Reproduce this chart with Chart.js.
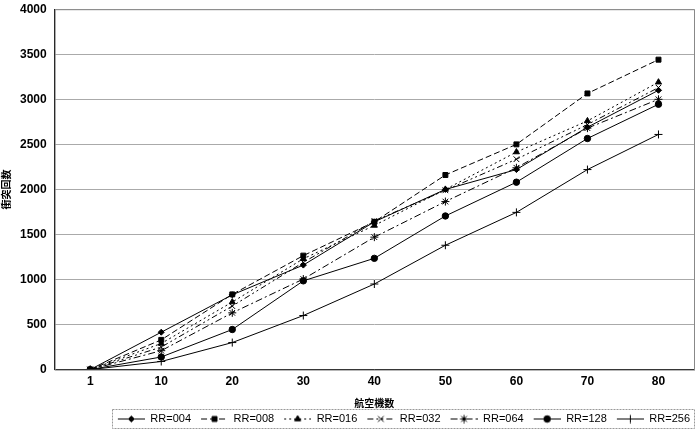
<!DOCTYPE html>
<html>
<head>
<meta charset="utf-8">
<script src="https://cdn.jsdelivr.net/npm/chart.js@4"></script>
<style>
  html,body{margin:0;padding:0;background:#fff;}
  #wrap{width:700px;height:434px;}
</style>
</head>
<body>
<div id="wrap"><canvas id="c" width="700" height="434"></canvas></div>
<script>
// 航空機数 (x) と衝突回数 (y)
const labels=["1","10","20","30","40","50","60","70","80"];
const yTicks=[0,500,1000,1500,2000,2500,3000,3500,4000];
const rr004=[0,415,830,1160,1640,2000,2220,2690,3100];
const rr008=[0,330,835,1265,1640,2160,2500,3065,3440];
const rr016=[0,290,750,1230,1600,2000,2415,2760,3190];
const rr032=[0,250,705,1190,1650,1990,2335,2720,3130];
const rr064=[0,210,630,1005,1470,1865,2240,2680,3000];
const rr128=[0,140,445,985,1235,1705,2080,2565,2945];
const rr256=[0,90,300,600,950,1380,1745,2220,2610];

// 凡例用: 線+マーカーの小さな画像 (左側は余白)
const LW=33, GAP=6;
function legendImg(dash,style,r){
  const cv=document.createElement("canvas");
  cv.width=LW; cv.height=10;
  const g=cv.getContext("2d");
  g.strokeStyle="#000"; g.fillStyle="#000"; g.lineWidth=1;
  g.setLineDash(dash);
  g.beginPath(); g.moveTo(GAP,5.5); g.lineTo(LW,5.5); g.stroke();
  g.setLineDash([]);
  Chart.helpers.drawPoint(g,{pointStyle:style,radius:r,rotation:0,borderWidth:1},GAP+(LW-GAP)/2,5.5);
  g.fill();
  return cv;
}

const SERIES=[
  {label:"RR=004",data:rr004,dash:[],style:"rectRot",r:3},
  {label:"RR=008",data:rr008,dash:[6,3],style:"rect",r:3.5},
  {label:"RR=016",data:rr016,dash:[2,3],style:"triangle",r:3.5},
  {label:"RR=032",data:rr032,dash:[6,3,2,3,2,3],style:"crossRot",r:4},
  {label:"RR=064",data:rr064,dash:[7,3,2,3],style:"star",r:4},
  {label:"RR=128",data:rr128,dash:[],style:"circle",r:3.2},
  {label:"RR=256",data:rr256,dash:[],style:"cross",r:4}
];

const frame={
  id:"frame",
  afterDraw(chart){
    const {ctx,chartArea:a}=chart;
    ctx.save();
    ctx.strokeStyle="#888"; ctx.lineWidth=1;
    ctx.strokeRect(a.left+0.5,a.top+0.5,a.right-a.left,a.bottom-a.top);
    // 凡例の枠
    const hb=chart.legend.legendHitBoxes;
    if(hb&&hb.length){
      const l=hb[0].left+GAP-6, r=hb[hb.length-1].left+hb[hb.length-1].width+4;
      const t=hb[0].top-4, b=hb[0].top+hb[0].height+4;
      ctx.strokeStyle="#999"; ctx.setLineDash([2,1]);
      ctx.strokeRect(Math.round(l)+0.5,Math.round(t)+0.5,Math.round(r-l),Math.round(b-t));
    }
    ctx.restore();
  }
};

const font={family:"'Liberation Sans', Arial, sans-serif",size:12,weight:"bold"};
const jfont={family:"'Noto Sans CJK JP', sans-serif",size:10,weight:"bold"};

new Chart(document.getElementById("c"),{
  type:"line",
  data:{
    labels,
    datasets:SERIES.map(s=>({
      label:s.label,
      data:s.data,
      borderColor:"#000",
      backgroundColor:"#000",
      borderWidth:1,
      borderDash:s.dash,
      tension:0,
      pointStyle:s.style,
      pointRadius:s.r,
      pointBorderWidth:1,
      pointBackgroundColor:"#000",
      pointBorderColor:"#000",
      legendImg:legendImg(s.dash,s.style,s.r)
    }))
  },
  options:{
    responsive:false,
    animation:false,
    layout:{padding:{left:0,right:6,top:1,bottom:0}},
    plugins:{
      legend:{
        position:"bottom",
        align:"end",
        labels:{
          usePointStyle:true,
          pointStyleWidth:LW,
          padding:4,
          color:"#000",
          font:{family:"'Liberation Sans', Arial, sans-serif",size:11},
          generateLabels(chart){
            return chart.data.datasets.map((d,i)=>({
              text:d.label,
              pointStyle:d.legendImg,
              fillStyle:"#000",
              strokeStyle:"#000",
              lineWidth:0,
              datasetIndex:i,
              hidden:false,
              fontColor:"#000"
            }));
          }
        }
      },
      tooltip:{enabled:false}
    },
    scales:{
      x:{
        type:"category",
        offset:true,
        grid:{display:false,drawTicks:false},
        border:{color:"#000"},
        ticks:{color:"#000",font,padding:5},
        title:{display:true,text:"航空機数",color:"#000",font:jfont,padding:{top:3,bottom:0}}
      },
      y:{
        min:0,max:4000,
        afterBuildTicks(axis){ axis.ticks=yTicks.map(v=>({value:v})); },
        grid:{color:"#aaa",drawTicks:false},
        border:{color:"#000"},
        ticks:{color:"#000",font:{...font,lineHeight:0.2},padding:8,callback:v=>String(v)},
        title:{display:true,text:"衝突回数",color:"#000",font:jfont,padding:{top:0,bottom:0}}
      }
    }
  },
  plugins:[frame]
});
</script>
</body>
</html>
